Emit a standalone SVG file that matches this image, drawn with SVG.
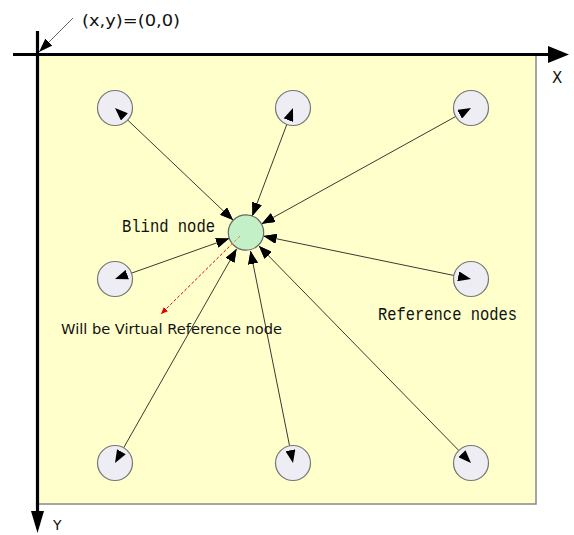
<svg xmlns="http://www.w3.org/2000/svg" width="574" height="535" viewBox="0 0 574 535">
  <style>
    .ref { fill: #ededf3; stroke: #777; stroke-width: 1.2; }
    .blind { fill: #c4f0c8; stroke: #666; stroke-width: 1.2; }
    .link { stroke: #3a3a30; stroke-width: 1; fill: none; marker-start: url(#ah); marker-end: url(#ah); }
    .axis { stroke: #000; stroke-width: 3.2; fill: none; }
    .mono { font-family: "Liberation Mono", "DejaVu Sans Mono", monospace; font-size: 18px; fill: #111; }
    .sans { font-family: "DejaVu Sans", Verdana, sans-serif; fill: #111; }
  </style>
  <defs>
    <marker id="ah" markerUnits="userSpaceOnUse" markerWidth="13" markerHeight="10" viewBox="0 0 13 10" refX="13" refY="5" orient="auto-start-reverse">
      <path d="M0,0 L13,5 L0,10 z" fill="#000"/>
    </marker>
    <marker id="ahRed" markerUnits="userSpaceOnUse" markerWidth="7" markerHeight="6" viewBox="0 0 7 6" refX="7" refY="3" orient="auto">
      <path d="M0,0 L7,3 L0,6 z" fill="#e00000"/>
    </marker>
    <marker id="ahGrey" markerUnits="userSpaceOnUse" markerWidth="14" markerHeight="10" viewBox="0 0 14 10" refX="14" refY="5" orient="auto">
      <path d="M0,0 L14,5 L0,10 z" fill="#000"/>
    </marker>
  </defs>

  <rect width="574" height="535" fill="#ffffff"/>

  <!-- plane -->
  <rect id="plane" x="38" y="54" width="498" height="450" fill="#ffffcc" stroke="#888" stroke-width="1.5"/>

  <!-- axes -->
  <g id="axes">
    <line class="axis" x1="13" y1="54.5" x2="550" y2="54.5"/>
    <path d="M548,46 L569,54.5 L548,63 z" fill="#000"/>
    <line class="axis" x1="37.5" y1="31" x2="37.5" y2="513"/>
    <path d="M31,511 L37.5,533 L44,511 z" fill="#000"/>
    <text class="sans" x="552" y="83" font-size="15">X</text>
    <text class="sans" x="53" y="530" font-size="14">Y</text>
  </g>

  <!-- origin label -->
  <g id="origin">
    <line x1="73" y1="18" x2="39" y2="52" stroke="#666" stroke-width="1" marker-end="url(#ahGrey)"/>
    <text class="sans" x="82" y="26" font-size="16" textLength="98" lengthAdjust="spacingAndGlyphs">(x,y)=(0,0)</text>
  </g>

  <!-- connectors -->
  <g id="connectors">
    <line class="link" x1="233" y1="220.1" x2="115" y2="108"/>
    <line class="link" x1="252.4" y1="215.7" x2="293" y2="108"/>
    <line class="link" x1="261.8" y1="223.8" x2="471" y2="108"/>
    <line class="link" x1="229" y1="238.5" x2="115" y2="279"/>
    <line class="link" x1="263.6" y1="236.1" x2="471" y2="279"/>
    <line class="link" x1="236.5" y1="249" x2="115" y2="463"/>
    <line class="link" x1="250.5" y1="251" x2="293" y2="463"/>
    <line class="link" x1="259" y1="246" x2="471" y2="463"/>
    <line x1="240" y1="236" x2="161" y2="314" stroke="#e00000" stroke-width="1" stroke-dasharray="3,2" marker-end="url(#ahRed)"/>
  </g>

  <!-- nodes -->
  <g id="ref-tl"><circle class="ref" cx="115" cy="108" r="17.5"/></g>
  <g id="ref-tm"><circle class="ref" cx="293" cy="108" r="17.5"/></g>
  <g id="ref-tr"><circle class="ref" cx="471" cy="108" r="17.5"/></g>
  <g id="ref-ml"><circle class="ref" cx="115" cy="279" r="17.5"/></g>
  <g id="ref-mr"><circle class="ref" cx="471" cy="279" r="17.5"/></g>
  <g id="ref-bl"><circle class="ref" cx="115" cy="463" r="17.5"/></g>
  <g id="ref-bm"><circle class="ref" cx="293" cy="463" r="17.5"/></g>
  <g id="ref-br"><circle class="ref" cx="471" cy="463" r="17.5"/></g>
  <g id="blind"><circle class="blind" cx="246" cy="232.5" r="17.7"/></g>

  <!-- arrowheads drawn again above the circles -->
  <g id="connector-heads">
    <line class="link" x1="233" y1="220.1" x2="115" y2="108" stroke-opacity="0"/>
    <line class="link" x1="252.4" y1="215.7" x2="293" y2="108" stroke-opacity="0"/>
    <line class="link" x1="261.8" y1="223.8" x2="471" y2="108" stroke-opacity="0"/>
    <line class="link" x1="229" y1="238.5" x2="115" y2="279" stroke-opacity="0"/>
    <line class="link" x1="263.6" y1="236.1" x2="471" y2="279" stroke-opacity="0"/>
    <line class="link" x1="236.5" y1="249" x2="115" y2="463" stroke-opacity="0"/>
    <line class="link" x1="250.5" y1="251" x2="293" y2="463" stroke-opacity="0"/>
    <line class="link" x1="259" y1="246" x2="471" y2="463" stroke-opacity="0"/>
    <line x1="240" y1="236" x2="230" y2="246" stroke="#e08040" stroke-width="1" stroke-dasharray="3,2"/>
  </g>

  <!-- labels -->
  <text class="mono" x="122" y="232" textLength="93" lengthAdjust="spacingAndGlyphs">Blind node</text>
  <text class="mono" x="378" y="320" textLength="139" lengthAdjust="spacingAndGlyphs">Reference nodes</text>
  <text class="sans" x="61" y="334" font-size="14.5" textLength="221" lengthAdjust="spacingAndGlyphs">Will be Virtual Reference node</text>
</svg>
